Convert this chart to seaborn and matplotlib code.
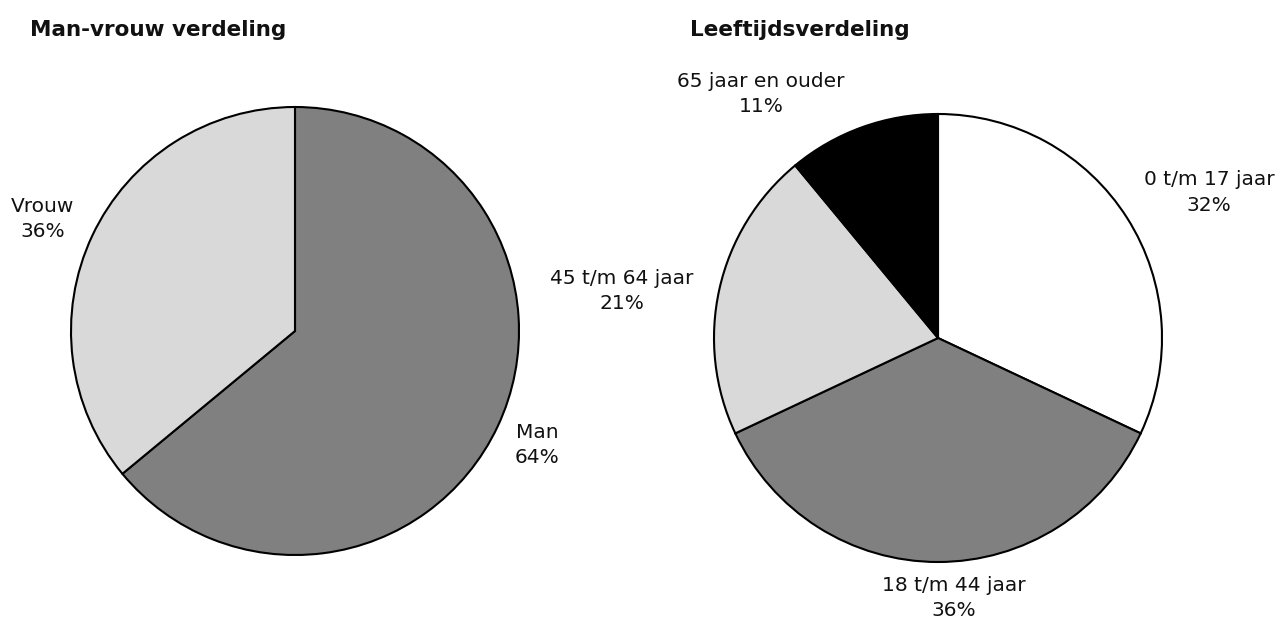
import matplotlib
matplotlib.use("Agg")
import matplotlib.pyplot as plt
import seaborn as sns
import numpy as np

sns.set_theme(style="white")
plt.rcParams['font.family'] = ['DejaVu Sans']

# data
gender_labels = ["Man", "Vrouw"]
gender_values = [64, 36]
age_labels = ["0 t/m 17 jaar", "18 t/m 44 jaar", "45 t/m 64 jaar", "65 jaar en ouder"]
age_values = [32, 36, 21, 11]

# styles / layout
gender_colors = ["#808080", "#d9d9d9"]
age_colors = ["#ffffff", "#808080", "#d9d9d9", "#000000"]
gender_label_pos = [(1.08, -0.51), (-1.125, 0.50)]
age_label_pos = [(1.21, 0.65), (0.07, -1.16), (-1.41, 0.21), (-0.79, 1.09)]

W, H = 1281, 619
fig = plt.figure(figsize=(W / 100, H / 100), dpi=100)


def pie_axes(cx, cy, r):
    return fig.add_axes([(cx - r) / W, (H - cy - r) / H, 2 * r / W, 2 * r / H])


def draw(ax, labels, values, colors, positions):
    ax.pie(values, colors=colors, startangle=90, counterclock=False, radius=1,
           wedgeprops=dict(edgecolor="black", linewidth=1.5))
    for lab, val, (x, y) in zip(labels, values, positions):
        ax.text(x, y, f"{lab}\n{val}%", ha="center", va="center", fontsize=14.5,
                color="#111111", linespacing=1.42)
    ax.set_xlim(-1, 1)
    ax.set_ylim(-1, 1)
    ax.set_aspect("equal")
    ax.axis("off")


ax1 = pie_axes(295, 331, 224)
draw(ax1, gender_labels, gender_values, gender_colors, gender_label_pos)
ax2 = pie_axes(938, 338, 224)
draw(ax2, age_labels, age_values, age_colors, age_label_pos)

fig.text(30 / W, 1 - 30 / H, "Man-vrouw verdeling", fontsize=15.5, fontweight="bold",
         ha="left", va="center", color="#111111")
fig.text(690 / W, 1 - 30 / H, "Leeftijdsverdeling", fontsize=15.5, fontweight="bold",
         ha="left", va="center", color="#111111")

fig.savefig("out.png", dpi=100, facecolor="white")
